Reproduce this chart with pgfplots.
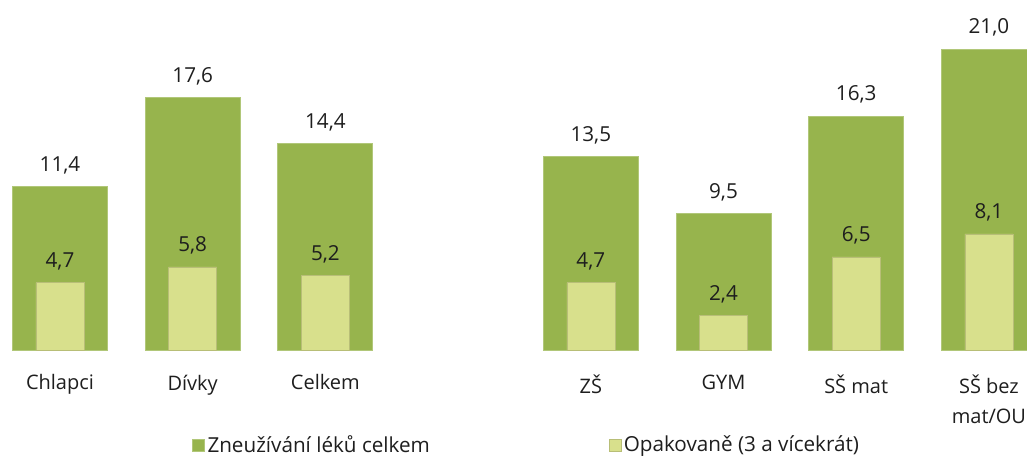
\documentclass[border=0pt]{standalone}
\usepackage{fontspec}
\setmainfont{Open Sans}
\usepackage{pgfplots}
\pgfplotsset{compat=1.18}
\definecolor{barDark}{RGB}{151,180,77}
\definecolor{barLight}{RGB}{216,224,140}
\definecolor{txt}{RGB}{30,30,30}

\begin{document}
\begin{tikzpicture}
\begin{axis}[
    scale only axis,
    width=770.25pt, height=262.5pt,
    xmin=-0.452, xmax=7.287,
    ymin=0, ymax=24.42,
    ybar,
    clip=true,
    axis line style={draw=none},
    major tick length=0pt,
    ytick=\empty,
    xtick={0,1,2,4,5,6,7},
    xticklabels={Chlapci,Dívky,Celkem,ZŠ,GYM,SŠ mat,{SŠ bez\\mat/OU}},
    x tick label style={font=\fontsize{15}{22.5}\selectfont, text=txt, align=center, yshift=-15pt},
    nodes near coords,
    nodes near coords style={font=\fontsize{15.5}{19}\selectfont, text=txt, yshift=6pt},
    /pgf/number format/.cd, use comma, fixed, fixed zerofill, precision=1, assume math mode=true,
    /pgfplots/.cd,
    legend columns=2,
    legend style={draw=none, at={(0.513,-0.2714)}, anchor=center,
        font=\fontsize{15.5}{19}\selectfont, text=txt,
        /tikz/every even column/.append style={column sep=132pt}},
    legend image code/.code={\fill[#1] (0pt,-4.5pt) rectangle (9pt,4.5pt);},
]

\addplot[fill=barDark, draw=barDark!75!white, line width=0.6pt, bar width=71.25pt, bar shift=0pt] coordinates {
    (0,11.4) (1,17.6) (2,14.4) (4,13.5) (5,9.5) (6,16.3) (7,21.0)
};
\addlegendentry{Zneužívání léků celkem}

\addplot[fill=barLight, draw=barLight!85!black, line width=0.4pt, bar width=36pt, bar shift=0pt] coordinates {
    (0,4.7) (1,5.8) (2,5.2) (4,4.7) (5,2.4) (6,6.5) (7,8.1)
};
\addlegendentry{Opakovaně (3 a vícekrát)}

\end{axis}
\pgfresetboundingbox
\path (0,-81pt) rectangle (770.25pt,262.5pt);
\end{tikzpicture}
\end{document}
